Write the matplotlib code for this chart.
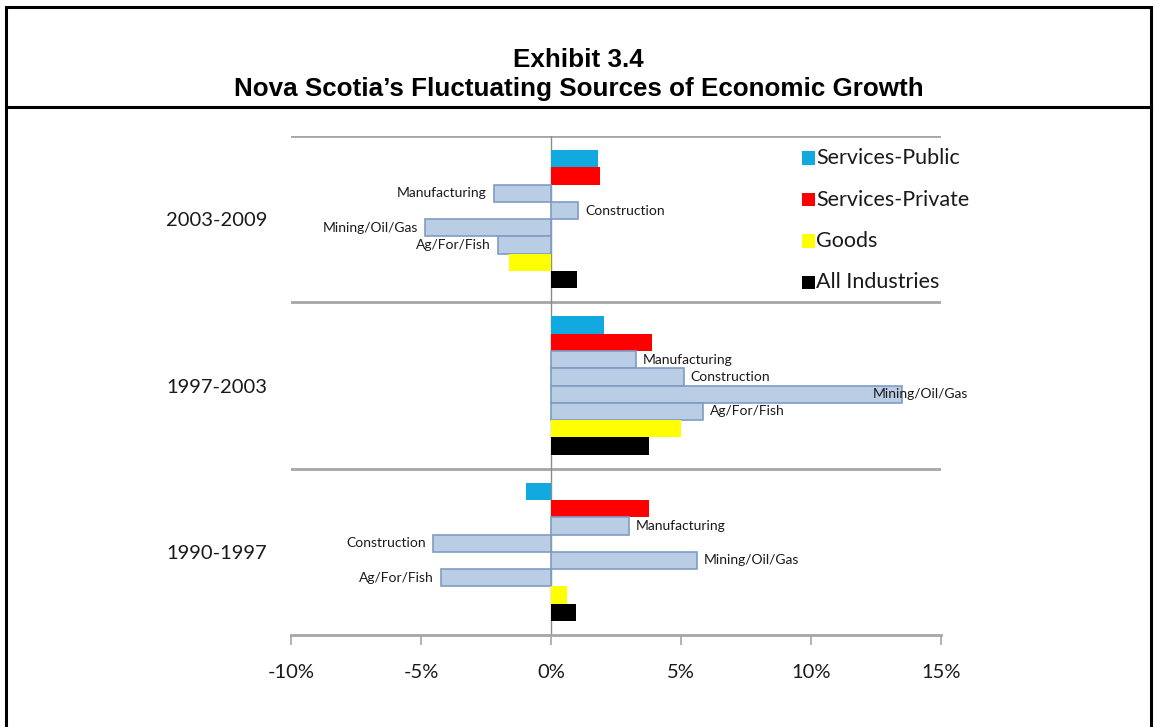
import matplotlib
matplotlib.use("Agg")
import matplotlib.pyplot as plt
from matplotlib.patches import Rectangle
from matplotlib.lines import Line2D
import matplotlib.transforms as mtransforms

# ---------------- data ----------------
periods = ["2003-2009", "1997-2003", "1990-1997"]
series = ["Services-Public", "Services-Private", "Manufacturing", "Construction",
          "Mining/Oil/Gas", "Ag/For/Fish", "Goods", "All Industries"]
values_2003_2009 = [1.8, 1.9, -2.2, 1.05, -4.85, -2.05, -1.6, 1.0]
values_1997_2003 = [2.05, 3.9, 3.25, 5.1, 13.5, 5.85, 5.0, 3.75]
values_1990_1997 = [-0.95, 3.75, 3.0, -4.55, 5.6, -4.25, 0.6, 0.95]
labelled_series = ["Manufacturing", "Construction", "Mining/Oil/Gas", "Ag/For/Fish"]
legend_series = ["Services-Public", "Services-Private", "Goods", "All Industries"]
x_ticks = [-10, -5, 0, 5, 10, 15]
x_tick_labels = ["-10%", "-5%", "0%", "5%", "10%", "15%"]
title_line1 = "Exhibit 3.4"
title_line2 = "Nova Scotia\u2019s Fluctuating Sources of Economic Growth"

all_values = [values_2003_2009, values_1997_2003, values_1990_1997]

# ---------------- style ----------------
industry_fill = "#B9CDE5"
industry_edge = "#7F9CC4"
colors = {
    "Services-Public": "#12A8E0",
    "Services-Private": "#FF0000",
    "Goods": "#FFFF00",
    "All Industries": "#000000",
}
grid_gray = "#A6A6A6"
text_col = "#1A1A1A"
chart_font = "Lato"

W, H = 1157, 727
fig = plt.figure(figsize=(W / 100, H / 100), dpi=100)
fig.patch.set_facecolor("white")

# outer frame and title separator
fig.add_artist(Rectangle((6 / W, -0.01), (W - 12) / W, 1 - 7 / H + 0.01,
                         transform=fig.transFigure, fill=False,
                         edgecolor="black", linewidth=2.2))
fig.add_artist(Line2D([6 / W, (W - 6) / W], [1 - 107 / H] * 2,
                      transform=fig.transFigure, color="black", linewidth=2.2))

fig.text(0.5, 1 - 60 / H, title_line1, ha="center", va="center",
         fontsize=18.7, fontweight="bold", family="Liberation Sans")
fig.text(0.5, 1 - 89 / H, title_line2, ha="center", va="center",
         fontsize=18.7, fontweight="bold", family="Liberation Sans")

# axes
left, right, top, bottom = 291, 941, 136, 635
ax = fig.add_axes([left / W, 1 - bottom / H, (right - left) / W, (bottom - top) / H])
ax.set_xlim(-10, 15)
ax.set_ylim(0, 3)
for s in ["left", "right", "top"]:
    ax.spines[s].set_visible(False)
ax.spines["bottom"].set_color(grid_gray)
ax.spines["bottom"].set_linewidth(2)

n = len(series)
bar_h = 17.3 / ((bottom - top) / 3)
lab_fs = 10

for gi, vals in enumerate(all_values):
    center = 3 - gi - 0.5
    for j, (name, v) in enumerate(zip(series, vals)):
        y = center + (n / 2 - 0.5 - j) * bar_h
        if name in colors:
            ax.barh(y, v, height=bar_h, color=colors[name], edgecolor="none", zorder=3)
        else:
            ax.barh(y, v, height=bar_h, color=industry_fill, edgecolor=industry_edge,
                    linewidth=1.2, zorder=3)
        if name in labelled_series:
            if v > 11:
                trans = mtransforms.blended_transform_factory(ax.transAxes, ax.transData)
                ax.text(1.0415, y, name, transform=trans, ha="right", va="center",
                        fontsize=lab_fs, family=chart_font, color=text_col, zorder=5,
                        clip_on=False)
            elif v < 0:
                ax.annotate(name, (v, y), xytext=(-5, 0), textcoords="offset points",
                            ha="right", va="center", fontsize=lab_fs, family=chart_font,
                            color=text_col, zorder=5)
            else:
                ax.annotate(name, (v, y), xytext=(5, 0), textcoords="offset points",
                            ha="left", va="center", fontsize=lab_fs, family=chart_font,
                            color=text_col, zorder=5)

# separators and zero line
for yy in [1, 2, 3]:
    ax.axhline(yy, color=grid_gray, linewidth=2, zorder=1)
ax.axvline(0, color="#8C8C8C", linewidth=1, zorder=2)

ax.set_xticks(x_ticks)
ax.set_xticklabels(x_tick_labels, fontsize=14.5, family=chart_font, color=text_col)
ax.tick_params(axis="x", length=7, width=1.2, color=grid_gray, pad=14)
ax.set_yticks([2.5, 1.5, 0.5])
ax.set_yticklabels(periods, fontsize=14.5, family=chart_font, color=text_col)
ax.tick_params(axis="y", length=0, pad=17)

# legend (manual)
leg_rows = [158, 199.5, 241, 282]
for name, ry in zip(legend_series, leg_rows):
    fig.add_artist(Rectangle((802 / W, 1 - (ry + 6.5) / H), 13 / W, 13 / H,
                             transform=fig.transFigure, facecolor=colors[name],
                             edgecolor="none"))
    fig.text(816 / W, 1 - ry / H, name, ha="left", va="center",
             fontsize=15.5, family=chart_font, color=text_col)

fig.savefig("out.png", dpi=100, facecolor="white")
